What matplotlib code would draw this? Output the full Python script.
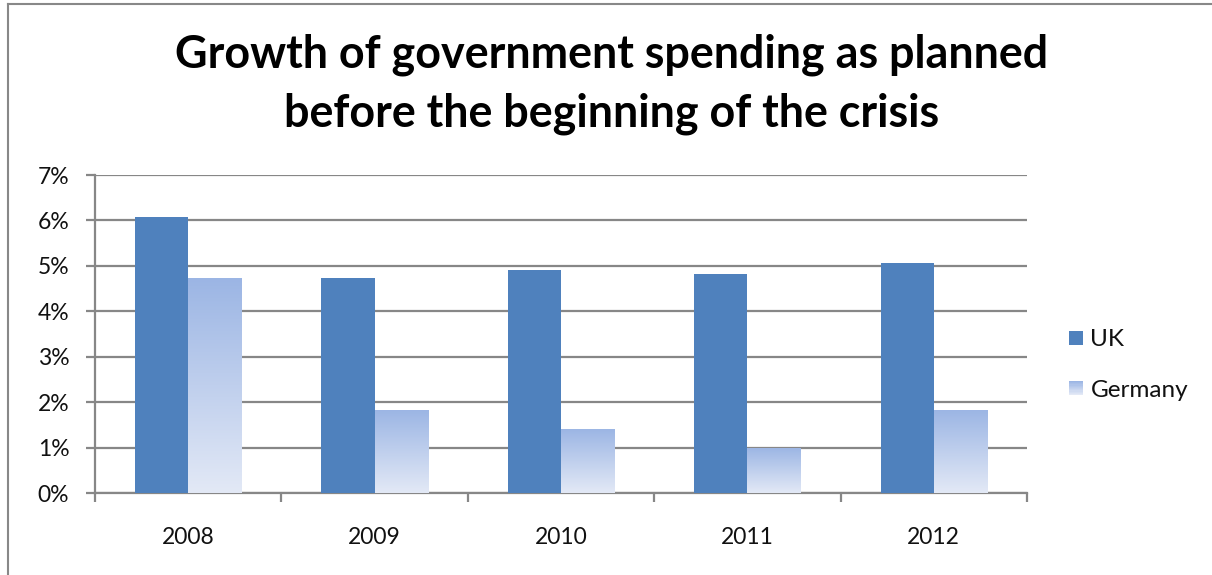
import numpy as np
import matplotlib
matplotlib.use("Agg")
import matplotlib.pyplot as plt
from matplotlib.patches import Rectangle
from matplotlib.legend_handler import HandlerBase
from matplotlib.lines import Line2D
from matplotlib.colors import LinearSegmentedColormap

years = ["2008", "2009", "2010", "2011", "2012"]
uk = [6.07, 4.74, 4.92, 4.83, 5.06]
germany = [4.74, 1.84, 1.41, 0.99, 1.84]
yticks = [0, 1, 2, 3, 4, 5, 6, 7]
ytick_labels = ["0%", "1%", "2%", "3%", "4%", "5%", "6%", "7%"]
title = "Growth of government spending as planned\nbefore the beginning of the crisis"

plt.rcParams['font.family'] = ['Lato', 'DejaVu Sans']

UK_COLOR = "#4f81bd"
G_TOP = "#9bb5e4"
G_BOT = "#e3e9f6"
GRID = "#878787"
grad_cmap = LinearSegmentedColormap.from_list("g", [G_BOT, G_TOP])

W, H = 1212, 575
fig = plt.figure(figsize=(W / 100, H / 100), dpi=100)
ax = fig.add_axes([95 / W, 1 - 493.3 / H, (1027 - 95) / W, (493.3 - 175) / H])

x = np.arange(len(years))
bw = 1 / 3.5
ax.bar(x - bw / 2, uk, width=bw, color=UK_COLOR, zorder=3, label="UK")
gbars = ax.bar(x + bw / 2, germany, width=bw, color=G_TOP, zorder=3, label="Germany")

grad = np.linspace(0, 1, 256).reshape(-1, 1)
for b in gbars:
    x0, y0 = b.get_x(), b.get_y()
    w, h = b.get_width(), b.get_height()
    im = ax.imshow(grad, cmap=grad_cmap, origin="lower", aspect="auto",
                   extent=[x0, x0 + w, y0, y0 + h], zorder=4, interpolation="bilinear")
    im.set_clip_path(b)

ax.set_xlim(-0.5, len(years) - 0.5)
ax.set_ylim(0, 7)
ax.set_yticks(yticks)
ax.set_yticklabels(ytick_labels)
ax.set_xticks(x)
ax.set_xticklabels(years)
ax.set_xticks(np.arange(-0.5, len(years), 1), minor=True)

ax.yaxis.grid(True, color=GRID, linewidth=1.6, zorder=0)
ax.set_axisbelow(True)
for s in ["top", "right"]:
    ax.spines[s].set_visible(False)
for s in ["left", "bottom"]:
    ax.spines[s].set_color(GRID)
    ax.spines[s].set_linewidth(1.6)

ax.tick_params(axis="y", length=6.5, width=1.6, color=GRID, labelsize=16.5, pad=12, labelcolor="#111111")
ax.tick_params(axis="x", which="major", length=0, labelsize=16.5, pad=24, labelcolor="#111111")
ax.tick_params(axis="x", which="minor", length=6.5, width=1.6, color=GRID)


class GradHandler(HandlerBase):
    def create_artists(self, legend, orig_handle, xdescent, ydescent, width, height, fontsize, trans):
        n = 12
        arts = []
        s = min(width, height)
        x0 = -xdescent + (width - s) / 2
        y0 = -ydescent + (height - s) / 2
        for i in range(n):
            c = grad_cmap(i / (n - 1))
            r = Rectangle((x0, y0 + s * i / n), s, s / n + 0.3, facecolor=c, edgecolor="none", transform=trans)
            arts.append(r)
        return arts


class SolidHandler(HandlerBase):
    def create_artists(self, legend, orig_handle, xdescent, ydescent, width, height, fontsize, trans):
        s = min(width, height)
        x0 = -xdescent + (width - s) / 2
        y0 = -ydescent + (height - s) / 2
        return [Rectangle((x0, y0), s, s, facecolor=UK_COLOR, edgecolor="none", transform=trans)]


h_uk = Rectangle((0, 0), 1, 1)
h_g = Line2D([], [])
leg = fig.legend([h_uk, h_g], ["UK", "Germany"],
                 handler_map={h_uk: SolidHandler(), h_g: GradHandler()},
                 loc="center left", bbox_to_anchor=(1069 / W, 1 - 365 / H),
                 frameon=False, fontsize=17.5, handlelength=0.58, handleheight=0.58,
                 handletextpad=0.3, labelspacing=1.2, borderpad=0, borderaxespad=0)
for t in leg.get_texts():
    t.set_color("#111111")

fig.text(612 / W, 1 - 84 / H, title, ha="center", va="center", fontsize=32.3,
         fontweight="bold", linespacing=1.48, color="#000000")

# outer border (top and left visible)
fig.add_artist(Line2D([8 / W, 1], [1 - 4 / H, 1 - 4 / H], transform=fig.transFigure, color="#888888", linewidth=1.5))
fig.add_artist(Line2D([8 / W, 8 / W], [0, 1 - 4 / H], transform=fig.transFigure, color="#888888", linewidth=1.5))

fig.savefig("out.png", dpi=100)
